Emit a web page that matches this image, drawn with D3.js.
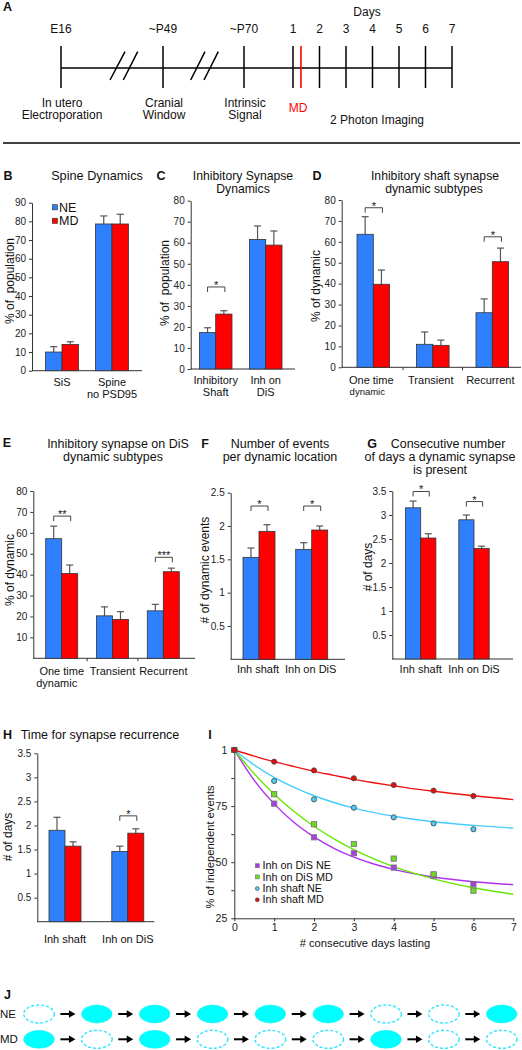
<!DOCTYPE html>
<html><head><meta charset="utf-8">
<script src="https://cdn.jsdelivr.net/npm/d3@7"></script>
<style>
body{margin:0;background:#fff}
svg{display:block}
text{font-family:"Liberation Sans",Arial,Helvetica,sans-serif;fill:#111}
</style>
</head><body><svg id="c" width="522" height="1050"></svg>
<script>
// ---------------- DATA ----------------
const timelineEvents = ["E16", "~P49", "~P70"];
const timelineCaptions = [["In utero", "Electroporation"], ["Cranial", "Window"], ["Intrinsic", "Signal"]];
const imagingDays = [1, 2, 3, 4, 5, 6, 7];
const mdDay = 1.3;

const seriesNames = ["NE", "MD"];

const catsB = ["SiS", "Spine\nno PSD95"];
const neB = [10, 78.6], neErrB = [12.9, 82.9];
const mdB = [14.1, 78.6], mdErrB = [15.5, 83.8];
const ticksB = [0, 10, 20, 30, 40, 50, 60, 70, 80, 90];

const catsC = ["Inhibitory\nShaft", "Inh on\nDiS"];
const neC = [17.3, 61.6], neErrC = [19.6, 68];
const mdC = [26.1, 58.9], mdErrC = [27.7, 65.6];
const sigC = ["*", ""], sigLevelC = [39, 0];
const ticksC = [0, 10, 20, 30, 40, 50, 60, 70, 80];

const catsD = ["One time\ndynamic", "Transient", "Recurrent"];
const neD = [63.6, 11, 26.1], neErrD = [72, 16.9, 32.7];
const mdD = [39.7, 10.5, 50.5], mdErrD = [46.5, 13, 57];
const sigD = ["*", "", "*"], sigLevelD = [76.3, 0, 62.4];
const ticksD = [0, 10, 20, 30, 40, 50, 60, 70, 80];

const catsE = ["One time\ndynamic", "Transient", "Recurrent"];
const neE = [57.2, 20.3, 22.7], neErrE = [63.2, 24.6, 25.8];
const mdE = [40.5, 18.6, 41.4], mdErrE = [44.6, 22.3, 43.1];
const sigE = ["**", "", "***"], sigLevelE = [68, 0, 48.3];
const ticksE = [10, 20, 30, 40, 50, 60, 70, 80];

const catsF = ["Inh shaft", "Inh on DiS"];
const neF = [1.53, 1.65], neErrF = [1.67, 1.75];
const mdF = [1.92, 1.94], mdErrF = [2.02, 2.0];
const sigF = ["*", "*"], sigLevelF = [2.3, 2.3];
const ticksF = [0.5, 1, 1.5, 2, 2.5];

const catsG = ["Inh shaft", "Inh on DiS"];
const neG = [3.15, 2.9], neErrG = [3.29, 3.0];
const mdG = [2.52, 2.3], mdErrG = [2.61, 2.35];
const sigG = ["*", "*"], sigLevelG = [3.49, 3.28];
const ticksG = [0.5, 1, 1.5, 2, 2.5, 3, 3.5];

const catsH = ["Inh shaft", "Inh on DiS"];
const neH = [1.9, 1.46], neErrH = [2.17, 1.57];
const mdH = [1.57, 1.84], mdErrH = [1.66, 1.93];
const sigH = ["", "*"], sigLevelH = [0, 2.2];
const ticksH = [0.5, 1, 1.5, 2, 2.5, 3, 3.5];

const daysI = [0, 1, 2, 3, 4, 5, 6];
const dinNE = [100, 76.1, 61.1, 54.0, 47.6, 44.0, 40.2];
const dinMD = [100, 80.3, 66.9, 58.1, 51.6, 44.6, 37.3];
const shNE = [100, 86.2, 78.0, 74.3, 70.0, 67.3, 64.7];
const shMD = [100, 94.8, 90.9, 87.4, 84.4, 81.9, 79.5];
const fitDays = [0, 0.5, 1, 1.5, 2, 2.5, 3, 3.5, 4, 5, 6, 7];
const fitDinNE = [100, 86.5, 76, 67.7, 61.3, 56.2, 52.3, 49.2, 46.8, 43.4, 41.3, 40.0];
const fitDinMD = [100, 89.4, 80.3, 72.6, 66.0, 60.4, 55.6, 51.5, 48.0, 42.6, 38.6, 35.7];
const fitShNE = [100, 93.3, 87.8, 83.3, 79.6, 76.6, 74.1, 72.1, 70.5, 68.0, 66.4, 65.2];
const fitShMD = [100, 97.3, 94.8, 92.6, 90.5, 88.7, 86.9, 85.4, 84.0, 81.6, 79.6, 77.9];
const legendI = ["Inh on DiS NE", "Inh on DiS MD", "Inh shaft NE", "Inh shaft MD"];
const yTicksI = [25, 37.5, 50, 62.5, 75, 87.5, 100];
const yLabelsI = {25: "25", 50: "50", 75: "75", 100: "1"};
const xTicksI = [0, 1, 2, 3, 4, 5, 6, 7];

const stepsJ = [0, 1, 2, 3, 4, 5, 6, 7, 8];
const presentNE = [0, 1, 1, 1, 1, 1, 0, 0, 1];
const presentMD = [1, 0, 1, 0, 0, 0, 1, 0, 0];

// ---------------- STYLE ----------------
const BLUE = "#2f80ff", RED = "#ff0000", AX = "#333";
const svg = d3.select("#c");

function txt(g, x, y, s, size, o = {}) {
  const t = g.append("text").attr("x", x).attr("y", y).attr("dy", "0.35em")
    .attr("font-size", size).attr("text-anchor", o.anchor || "middle").text(s);
  if (o.bold) t.attr("font-weight", "bold");
  if (o.fill) t.style("fill", o.fill);
  if (o.rotate) t.attr("transform", `rotate(-90,${x},${y})`);
  return t;
}
function letter(x, y, s) { txt(svg, x, y, s, 12.5, {bold: true}); }

// ---------------- PANEL A ----------------
(function () {
  const g = svg.append("g");
  letter(7.5, 7, "A");
  const yL = 68, yT = 46, yB = 88;
  const dayX = d3.scaleLinear().domain([1, 7]).range([293, 452]);
  const eventX = [61, 163, 244];
  g.append("line").attr("x1", eventX[0]).attr("x2", dayX(7)).attr("y1", yL).attr("y2", yL)
    .attr("stroke", "#000").attr("stroke-width", 1.5);
  const tickXs = eventX.concat(imagingDays.map(dayX));
  g.selectAll(".tk").data(tickXs).enter().append("line")
    .attr("x1", d => d).attr("x2", d => d).attr("y1", yT).attr("y2", yB)
    .attr("stroke", "#000").attr("stroke-width", 1.5);
  g.append("line").attr("x1", dayX(mdDay)).attr("x2", dayX(mdDay)).attr("y1", yT).attr("y2", yB)
    .attr("stroke", RED).attr("stroke-width", 1.6);
  // break marks
  [[110, 125], [123.3, 137.7], [190.7, 205], [204, 218.3]].forEach(([a, b]) => {
    g.append("line").attr("x1", a).attr("y1", 80).attr("x2", b).attr("y2", 51.7)
      .attr("stroke", "#000").attr("stroke-width", 1.5);
  });
  timelineEvents.forEach((s, i) => txt(g, eventX[i], 29, s, 12));
  imagingDays.forEach(d => txt(g, dayX(d), 29, String(d), 12));
  txt(g, 367, 12, "Days", 12);
  timelineCaptions.forEach((c, i) => {
    txt(g, eventX[i] + 1, 103, c[0], 12);
    txt(g, eventX[i] + 1, 115, c[1], 12);
  });
  txt(g, 298, 108, "MD", 12, {fill: RED});
  txt(g, 377, 120, "2 Photon Imaging", 12);
  g.append("line").attr("x1", 3).attr("x2", 520).attr("y1", 143).attr("y2", 143)
    .attr("stroke", "#000").attr("stroke-width", 1.5);
})();

// ---------------- BAR CHARTS ----------------
function barChart(o) {
  const g = svg.append("g");
  const y = d3.scaleLinear().domain([0, o.max]).range([o.y0, o.yTop]);
  const x = d3.scalePoint().domain(o.cats).range([o.c1, o.cN]);
  const w = o.bw;
  const ax = d3.axisLeft(y).tickValues(o.ticks).tickSize(3).tickSizeOuter(0).tickPadding(3)
    .tickFormat(o.fmt || (d => String(d)));
  const ag = g.append("g").attr("transform", `translate(${o.x0},0)`).call(ax);
  ag.select(".domain").attr("stroke", AX);
  ag.selectAll(".tick line").attr("stroke", AX);
  ag.selectAll(".tick text").attr("font-size", 10).style("fill", "#222")
    .attr("font-family", '"Liberation Sans",Arial,sans-serif');
  g.append("line").attr("x1", o.x0).attr("x2", o.xEnd).attr("y1", o.y0).attr("y2", o.y0)
    .attr("stroke", AX);
  if (o.sepTicks) {
    const c = o.cats.map(x);
    for (let i = 0; i < c.length - 1; i++) {
      const m = (c[i] + c[i + 1]) / 2;
      g.append("line").attr("x1", m).attr("x2", m).attr("y1", o.y0).attr("y2", o.y0 + 3).attr("stroke", AX);
    }
  }
  const series = [{v: o.ne, e: o.neErr, c: BLUE, off: -w}, {v: o.md, e: o.mdErr, c: RED, off: 0}];
  series.forEach(s => {
    g.selectAll(null).data(o.cats).enter().append("line")
      .attr("x1", (d, i) => x(d) + s.off + w / 2).attr("x2", (d, i) => x(d) + s.off + w / 2)
      .attr("y1", (d, i) => y(s.v[i])).attr("y2", (d, i) => y(s.e[i]))
      .attr("stroke", "#555").attr("stroke-width", 1.2);
    g.selectAll(null).data(o.cats).enter().append("line")
      .attr("x1", (d, i) => x(d) + s.off + w / 2 - 3.5).attr("x2", (d, i) => x(d) + s.off + w / 2 + 3.5)
      .attr("y1", (d, i) => y(s.e[i])).attr("y2", (d, i) => y(s.e[i]))
      .attr("stroke", "#555").attr("stroke-width", 1.2);
    g.selectAll(null).data(o.cats).enter().append("rect")
      .attr("x", d => x(d) + s.off).attr("width", w)
      .attr("y", (d, i) => y(s.v[i])).attr("height", (d, i) => y(0) - y(s.v[i]))
      .attr("fill", s.c).attr("stroke", "#333").attr("stroke-width", 0.8);
  });
  if (o.sig) {
    o.cats.forEach((d, i) => {
      if (!o.sig[i]) return;
      const yy = y(o.sigLevel[i]);
      const xa = x(d) - w / 2, xb = x(d) + w / 2 + 1;
      g.append("path").attr("d", `M${xa},${yy + 5}V${yy}H${xb}V${yy + 5}`)
        .attr("fill", "none").attr("stroke", "#444").attr("stroke-width", 1);
      g.append("text").attr("x", (xa + xb) / 2).attr("y", yy + 2).attr("text-anchor", "middle")
        .attr("font-size", 11).text(o.sig[i]);
    });
  }
  o.cats.forEach(d => {
    const lines = d.split("\n");
    lines.forEach((l, k) => {
      const fs = (k === 1 && o.sub2) ? o.sub2 : 11;
      txt(g, x(d) + (o.labDx || 0) + (k === 1 ? (o.line2Dx || 0) : 0), o.labY + k * o.labLH, l, fs);
    });
  });
  if (o.ylab) txt(g, o.ylabX, o.ylabY, o.ylab, 12, {rotate: true});
  return {g, x, y};
}

// B
letter(8, 176, "B");
txt(svg, 97, 176, "Spine Dynamics", 12.7);
barChart({x0: 32, xEnd: 142, y0: 370.7, yTop: 202.7, max: 90, ticks: ticksB,
  cats: catsB, c1: 62, cN: 112, bw: 16.5, ne: neB, neErr: neErrB, md: mdB, mdErr: mdErrB,
  labY: 382.5, labLH: 12, ylab: "% of  population", ylabX: 10, ylabY: 281});
// legend B
seriesNames.forEach((s, i) => {
  svg.append("rect").attr("x", 52.3).attr("y", 204.7 + i * 13.5).attr("width", 5.2).attr("height", 5.2)
    .attr("fill", i ? RED : BLUE).attr("stroke", "#333").attr("stroke-width", 0.6);
  txt(svg, 59, 207.5 + i * 13.5, s, 12.5, {anchor: "start"});
});

// C
letter(161, 176, "C");
txt(svg, 243, 175.5, "Inhibitory Synapse", 12.2);
txt(svg, 243, 188.5, "Dynamics", 12.2);
barChart({x0: 190.7, xEnd: 295, y0: 369, yTop: 200.7, max: 80, ticks: ticksC,
  cats: catsC, c1: 215.7, cN: 265.7, bw: 16.3, ne: neC, neErr: neErrC, md: mdC, mdErr: mdErrC,
  sig: sigC, sigLevel: sigLevelC, labY: 380, labLH: 12.3, ylab: "% of  population", ylabX: 165, ylabY: 283});
svg.selectAll("text").filter(function () { return this.textContent.includes("  "); }).style("white-space", "pre");

// D
letter(317, 176, "D");
txt(svg, 435, 175.3, "Inhibitory shaft synapse", 12.2);
txt(svg, 434, 188.3, "dynamic subtypes", 12.2);
barChart({x0: 341.7, xEnd: 521, y0: 367.3, yTop: 200, max: 80, ticks: ticksD,
  cats: catsD, c1: 373.3, cN: 492.3, bw: 16.3, ne: neD, neErr: neErrD, md: mdD, mdErr: mdErrD,
  sig: sigD, sigLevel: sigLevelD, labY: 380, labLH: 12, labDx: -2, line2Dx: -4, sub2: 9.5, sepTicks: true,
  ylab: "% of dynamic", ylabX: 316, ylabY: 286});

// E
letter(7, 443, "E");
txt(svg, 118, 444, "Inhibitory synapse on DiS", 12.5);
txt(svg, 113, 457, "dynamic subtypes", 12.5);
barChart({x0: 33.3, xEnd: 195, y0: 658.3, yTop: 491, max: 80, ticks: ticksE,
  cats: catsE, c1: 61.7, cN: 163.3, bw: 16, ne: neE, neErr: neErrE, md: mdE, mdErr: mdErrE,
  sig: sigE, sigLevel: sigLevelE, labY: 670.7, labLH: 12.6, line2Dx: -5, sepTicks: true,
  ylab: "% of dynamic", ylabX: 10, ylabY: 570});

// F
letter(205, 444, "F");
txt(svg, 280, 443.3, "Number of events", 12.5);
txt(svg, 280, 456.3, "per dynamic location", 12.5);
barChart({x0: 230.7, xEnd: 345, y0: 659.3, yTop: 492.7, max: 2.5, ticks: ticksF,
  cats: catsF, c1: 259, cN: 311.7, bw: 16, ne: neF, neErr: neErrF, md: mdF, mdErr: mdErrF,
  sig: sigF, sigLevel: sigLevelF, labY: 669.3, labLH: 12, labDx: -1,
  ylab: "# of dynamic events", ylabX: 205, ylabY: 570});

// G
letter(372, 444, "G");
txt(svg, 448, 444, "Consecutive number", 12.5);
txt(svg, 440, 457, "of days a dynamic synapse", 12.5);
txt(svg, 440, 470, "is present", 12.5);
barChart({x0: 392.3, xEnd: 513, y0: 659, yTop: 491, max: 3.5, ticks: ticksG,
  cats: catsG, c1: 420.7, cN: 474, bw: 15.2, ne: neG, neErr: neErrG, md: mdG, mdErr: mdErrG,
  sig: sigG, sigLevel: sigLevelG, labY: 669.3, labLH: 12,
  ylab: "# of days", ylabX: 368, ylabY: 567});

// H
letter(7.5, 735, "H");
txt(svg, 20.7, 735, "Time for synapse recurrence", 12.5, {anchor: "start"});
barChart({x0: 37.3, xEnd: 154.3, y0: 921.7, yTop: 753.3, max: 3.5, ticks: ticksH,
  cats: catsH, c1: 65, cN: 127.8, bw: 16, ne: neH, neErr: neErrH, md: mdH, mdErr: mdErrH,
  sig: sigH, sigLevel: sigLevelH, labY: 939.3, labLH: 12,
  ylab: "# of days", ylabX: 7.5, ylabY: 837});

// ---------------- PANEL I ----------------
(function () {
  const g = svg.append("g");
  letter(210, 735, "I");
  const x = d3.scaleLinear().domain([0, 7]).range([234.3, 513.3]);
  const y = d3.scaleLinear().domain([25, 100]).range([918.3, 750]);
  const ya = g.append("g").attr("transform", "translate(234.3,0)")
    .call(d3.axisLeft(y).tickValues(yTicksI).tickSize(3).tickSizeOuter(0).tickPadding(4)
      .tickFormat(d => yLabelsI[d] || ""));
  const xa = g.append("g").attr("transform", "translate(0,918.3)")
    .call(d3.axisBottom(x).tickValues(xTicksI).tickSize(3).tickSizeOuter(0).tickPadding(2)
      .tickFormat(d3.format("d")));
  [ya, xa].forEach(a => {
    a.select(".domain").attr("stroke", AX);
    a.selectAll(".tick line").attr("stroke", AX);
    a.selectAll(".tick text").attr("font-size", 10.5).style("fill", "#222")
      .attr("font-family", '"Liberation Sans",Arial,sans-serif');
  });
  txt(g, 365, 943.5, "# consecutive days lasting", 11.2);
  txt(g, 210, 847, "% of independent events", 11.2, {rotate: true});

  const S = [
    {fit: fitDinNE, pts: dinNE, line: "#b030f0", fill: "#a83ce8", shape: "sq"},
    {fit: fitDinMD, pts: dinMD, line: "#66e600", fill: "#6fdc20", shape: "sq"},
    {fit: fitShNE, pts: shNE, line: "#44ccff", fill: "#55c8ee", shape: "ci"},
    {fit: fitShMD, pts: shMD, line: "#ee1111", fill: "#e01010", shape: "ci"}
  ];
  const ln = d3.line().x((d, i) => x(fitDays[i])).y(d => y(d)).curve(d3.curveMonotoneX);
  S.forEach(s => g.append("path").attr("d", ln(s.fit)).attr("fill", "none")
    .attr("stroke", s.line).attr("stroke-width", 1.4));
  S.forEach(s => {
    if (s.shape === "sq") {
      g.selectAll(null).data(s.pts).enter().append("rect")
        .attr("x", (d, i) => x(daysI[i]) - 2.6).attr("y", d => y(d) - 2.6)
        .attr("width", 5.2).attr("height", 5.2).attr("fill", s.fill)
        .attr("stroke", "#777").attr("stroke-width", 0.9);
    } else {
      g.selectAll(null).data(s.pts).enter().append("circle")
        .attr("cx", (d, i) => x(daysI[i])).attr("cy", d => y(d)).attr("r", 2.6)
        .attr("fill", s.fill).attr("stroke", "#444").attr("stroke-width", 0.8);
    }
  });
  legendI.forEach((l, i) => {
    const yy = 865.7 + i * 11.2, s = S[i];
    if (s.shape === "sq") {
      g.append("rect").attr("x", 255.3).attr("y", yy - 2).attr("width", 4).attr("height", 4)
        .attr("fill", s.fill).attr("stroke", "#777").attr("stroke-width", 0.6);
    } else {
      g.append("circle").attr("cx", 257.3).attr("cy", yy + 0.5).attr("r", 2)
        .attr("fill", s.fill).attr("stroke", "#444").attr("stroke-width", 0.6);
    }
    txt(g, 262.5, yy, l, 10.8, {anchor: "start"});
  });
})();

// ---------------- PANEL J ----------------
(function () {
  const g = svg.append("g");
  letter(7.5, 995, "J");
  const x = d3.scalePoint().domain(stepsJ).range([39, 501.7]);
  const rows = [{name: "NE", y: 1014, p: presentNE}, {name: "MD", y: 1039.3, p: presentMD}];
  rows.forEach(r => {
    txt(g, 0, r.y, r.name, 11.5, {anchor: "start"});
    g.selectAll(null).data(stepsJ).enter().append("ellipse")
      .attr("cx", d => x(d)).attr("cy", r.y).attr("rx", 15.3).attr("ry", 9)
      .attr("fill", (d, i) => r.p[i] ? "#00ffff" : "none")
      .attr("stroke", (d, i) => r.p[i] ? "#00f0f0" : "#33e6ff")
      .attr("stroke-width", (d, i) => r.p[i] ? 0.5 : 1.4)
      .attr("stroke-dasharray", (d, i) => r.p[i] ? null : "3,2");
    stepsJ.slice(0, -1).forEach(d => {
      const m = (x(d) + x(d + 1)) / 2;
      g.append("line").attr("x1", m - 7.5).attr("x2", m + 2).attr("y1", r.y).attr("y2", r.y)
        .attr("stroke", "#000").attr("stroke-width", 2);
      g.append("path").attr("d", `M${m + 7.5},${r.y}L${m + 1},${r.y - 3.8}L${m + 1},${r.y + 3.8}Z`)
        .attr("fill", "#000");
    });
  });
})();
</script>
</body></html>
